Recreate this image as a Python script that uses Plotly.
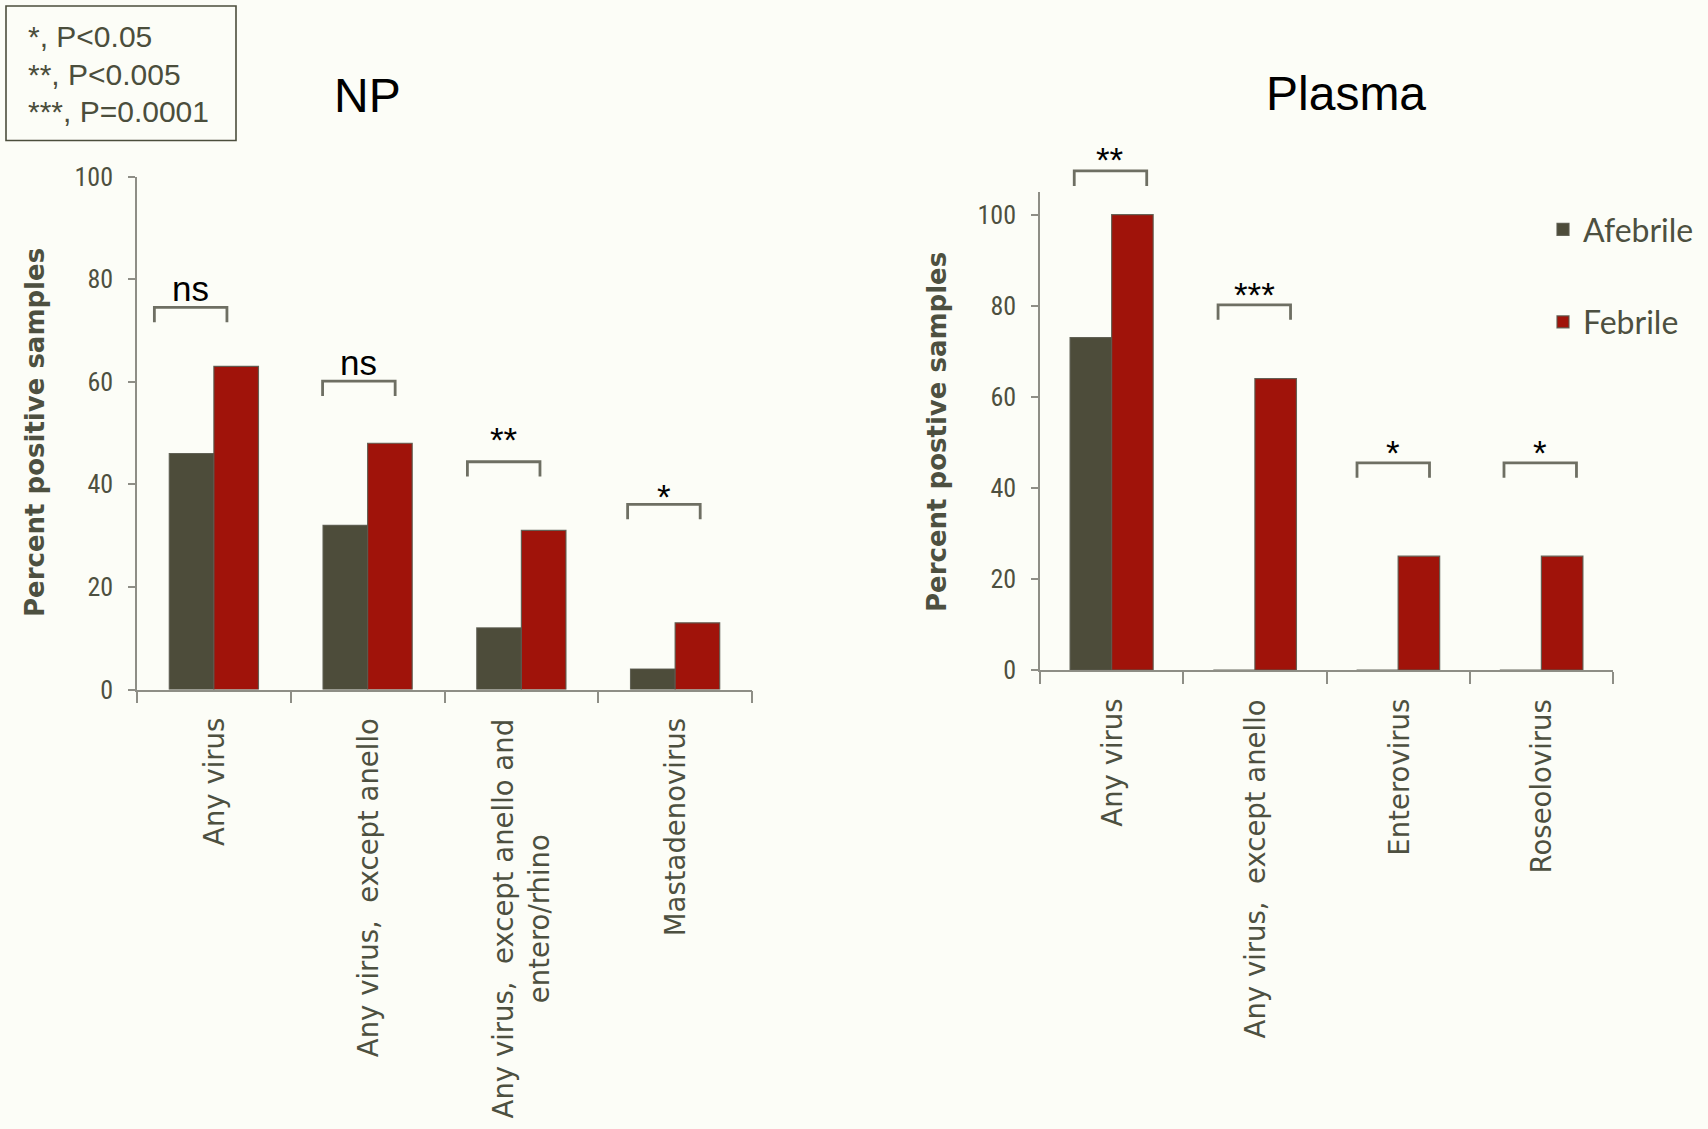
import plotly.graph_objects as go

# ---------------- data ----------------
np_categories = ["Any virus", "Any virus,\u00a0 except anello",
                 "Any virus,\u00a0 except anello and<br>entero/rhino", "Mastadenovirus"]
np_afebrile = [46, 32, 12, 4]
np_febrile = [63, 48, 31, 13]
np_sig = ["ns", "ns", "**", "*"]
np_bracket_y = [74.5, 60.1, 44.4, 36.1]
np_label_y = [78.1, 63.7, 49.5, 38.4]

plasma_categories = ["Any virus", "Any virus,\u00a0 except anello", "Enterovirus", "Roseolovirus"]
plasma_afebrile = [73, 0, 0, 0]
plasma_febrile = [100, 64, 25, 25]
plasma_sig = ["**", "***", "*", "*"]
plasma_bracket_y = [109.6, 80.2, 45.5, 45.5]
plasma_label_y = [112.9, 83.3, 48.6, 48.6]

y_ticks = [0, 20, 40, 60, 80, 100]
legend_names = ["Afebrile", "Febrile"]
key_lines = ["*, P<0.05", "**, P<0.005", "***, P=0.0001"]

# ---------------- layout helpers ----------------
W, H, OFF = 1708, 1129, 0


def px2x(px):
    return (px - OFF) / W


def px2y(py):
    return 1 - (py - OFF) / H


BG = "#FCFDF7"
C_AF = "#4D4C3A"
C_FE = "#A0130A"
C_TXT = "#4D5040"
C_AX = "#8E8E86"
C_BR = "#6E6F63"
TICKFONT = dict(family="Liberation Sans Narrow, Roboto Condensed, Roboto, sans-serif", size=26, color=C_TXT)
CATFONT = dict(family="DejaVu Sans, Verdana, sans-serif", size=27.5, color=C_TXT)
SIGFONT = dict(family="Liberation Sans, Arial, sans-serif", size=35, color="black")

fig = go.Figure()
edge = dict(color="rgba(90,90,78,0.9)", width=1.2)
fig.add_trace(go.Bar(x=np_categories, y=np_afebrile, name=legend_names[0], marker=dict(color=C_AF, line=edge),
                     xaxis="x", yaxis="y", legendgroup="a"))
fig.add_trace(go.Bar(x=np_categories, y=np_febrile, name=legend_names[1], marker=dict(color=C_FE, line=edge),
                     xaxis="x", yaxis="y", legendgroup="b"))
fig.add_trace(go.Bar(x=plasma_categories, y=plasma_afebrile, name=legend_names[0], marker=dict(color=C_AF, line=edge),
                     xaxis="x2", yaxis="y2", legendgroup="a", showlegend=False))
fig.add_trace(go.Bar(x=plasma_categories, y=plasma_febrile, name=legend_names[1], marker=dict(color=C_FE, line=edge),
                     xaxis="x2", yaxis="y2", legendgroup="b", showlegend=False))

np_ymax, pl_ymax = 100, 105

xcommon = dict(type="category", showline=True, linecolor=C_AX, linewidth=1.5, ticks="outside",
               tickson="boundaries", ticklen=12, tickcolor=C_AX, tickwidth=1.5, showticklabels=False,
               showgrid=False, zeroline=False, range=[-0.5, 3.5], fixedrange=True)
ycommon = dict(showline=True, linecolor=C_AX, linewidth=1.5, ticks="outside", ticklen=7, tickcolor=C_AX,
               tickwidth=1.5, tickvals=y_ticks, tickfont=TICKFONT, showgrid=False, zeroline=False,
               ticklabelstandoff=10)

fig.update_layout(
    width=W, height=H, margin=dict(l=0, r=0, t=0, b=0, autoexpand=False),
    paper_bgcolor=BG, plot_bgcolor=BG, barmode="group", bargap=0.42, bargroupgap=0,
    xaxis=dict(domain=[px2x(137), px2x(752)], anchor="y", **xcommon),
    yaxis=dict(domain=[px2y(689.5), px2y(176.5)], anchor="x", range=[0, np_ymax], **ycommon),
    xaxis2=dict(domain=[px2x(1040), px2x(1613)], anchor="y2", **xcommon),
    yaxis2=dict(domain=[px2y(670), px2y(191.9)], anchor="x2", range=[0, pl_ymax], **ycommon),
    legend=dict(x=px2x(1543), y=px2y(202), xanchor="left", yanchor="top", bgcolor="rgba(0,0,0,0)",
                font=dict(family="Lato, sans-serif", size=32, color=C_TXT), tracegroupgap=48,
                traceorder="grouped"),
    showlegend=True,
)

shapes = []
annotations = []


def add_brackets(xref, yref, sig, bracket_y, label_y, centers, half, leg, ymax):
    for i, (s, by, ly, c) in enumerate(zip(sig, bracket_y, label_y, centers)):
        x0, x1 = i + c - half, i + c + half
        yt = by / ymax
        yb = (by - leg) / ymax
        shapes.append(dict(type="path", xref=xref, yref=yref + " domain",
                           path=f"M {x0},{yb} L {x0},{yt} L {x1},{yt} L {x1},{yb}",
                           line=dict(color=C_BR, width=2.8)))
        star = s.startswith("*")
        annotations.append(dict(x=i + c, y=ly / ymax, xref=xref, yref=yref + " domain", text=s,
                                showarrow=False, xanchor="center", yanchor="middle",
                                yshift=-4 if star else 0, font=SIGFONT))


add_brackets("x", "y", np_sig, np_bracket_y, np_label_y, [-0.151, -0.057, -0.115, -0.073], 0.236, 2.9, np_ymax)
add_brackets("x2", "y2", plasma_sig, plasma_bracket_y, plasma_label_y, [-0.008, -0.004, -0.034, -0.008], 0.253, 3.3, pl_ymax)

# category labels
for i, lab in enumerate(np_categories):
    annotations.append(dict(x=i, y=px2y(716), xref="x", yref="paper", text=lab, textangle=-90,
                            showarrow=False, xanchor="center", yanchor="top", align="center", font=CATFONT))
for i, lab in enumerate(plasma_categories):
    annotations.append(dict(x=i, y=px2y(697), xref="x2", yref="paper", text=lab, textangle=-90,
                            showarrow=False, xanchor="center", yanchor="top", align="center", font=CATFONT))

# axis titles
YTFONT = dict(family="DejaVu Sans, sans-serif", size=26, color=C_TXT, weight="bold")
annotations.append(dict(x=px2x(35), y=px2y(433), xref="paper", yref="paper", text="Percent positive samples",
                        textangle=-90, showarrow=False, xanchor="center", yanchor="middle", font=YTFONT))
annotations.append(dict(x=px2x(937), y=px2y(432), xref="paper", yref="paper", text="Percent postive samples",
                        textangle=-90, showarrow=False, xanchor="center", yanchor="middle", font=YTFONT))

# panel titles
TFONT = dict(family="Liberation Sans, Arial, sans-serif", size=48, color="black")
annotations.append(dict(x=px2x(367), y=px2y(96), xref="paper", yref="paper", text="NP", showarrow=False,
                        xanchor="center", yanchor="middle", font=TFONT))
annotations.append(dict(x=px2x(1346), y=px2y(94), xref="paper", yref="paper", text="Plasma", showarrow=False,
                        xanchor="center", yanchor="middle", font=TFONT))

# significance key box
shapes.append(dict(type="rect", xref="paper", yref="paper", x0=px2x(6), x1=px2x(236), y0=px2y(140.5),
                   y1=px2y(6), line=dict(color="#4B4E3C", width=1.6)))
for k, (line, cy) in enumerate(zip(key_lines, [36, 74, 111])):
    annotations.append(dict(x=px2x(26), y=px2y(cy), xref="paper", yref="paper", text=line, showarrow=False,
                            xanchor="left", yanchor="middle",
                            font=dict(family="Liberation Sans, Arial, sans-serif", size=30, color="#4B4E3C")))

fig.update_layout(shapes=shapes, annotations=annotations)
fig.write_html("out.html", config={"displayModeBar": False},
               post_script=f"document.body.style.margin='0';document.body.style.overflow='hidden';"
                           f"document.body.style.background='{BG}';")
